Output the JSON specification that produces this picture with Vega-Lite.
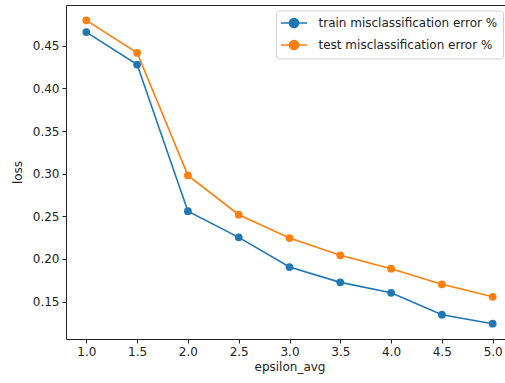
{
  "$schema": "https://vega.github.io/schema/vega-lite/v6.json",
  "autosize": {"type": "none"},
  "padding": {"left": 66, "top": 5, "right": 0, "bottom": 44},
  "width": 447,
  "height": 334,
  "background": "white",
  "config": {
    "font": "DejaVu Sans",
    "view": {"stroke": "#222", "strokeWidth": 1},
    "axis": {"grid": false, "domain": false, "tickColor": "#222", "tickSize": 4, "labelFontSize": 12, "labelColor": "#222", "titleFontSize": 12, "titleFontWeight": "normal", "titleColor": "#222", "labelPadding": 3}
  },
  "data": {
    "values": [
      {"epsilon_avg": 1.0, "loss": 0.466, "series": "train misclassification error %"},
      {"epsilon_avg": 1.5, "loss": 0.428, "series": "train misclassification error %"},
      {"epsilon_avg": 2.0, "loss": 0.256, "series": "train misclassification error %"},
      {"epsilon_avg": 2.5, "loss": 0.2254, "series": "train misclassification error %"},
      {"epsilon_avg": 3.0, "loss": 0.1906, "series": "train misclassification error %"},
      {"epsilon_avg": 3.5, "loss": 0.1726, "series": "train misclassification error %"},
      {"epsilon_avg": 4.0, "loss": 0.1604, "series": "train misclassification error %"},
      {"epsilon_avg": 4.5, "loss": 0.1347, "series": "train misclassification error %"},
      {"epsilon_avg": 5.0, "loss": 0.1241, "series": "train misclassification error %"},
      {"epsilon_avg": 1.0, "loss": 0.4798, "series": "test misclassification error %"},
      {"epsilon_avg": 1.5, "loss": 0.4418, "series": "test misclassification error %"},
      {"epsilon_avg": 2.0, "loss": 0.298, "series": "test misclassification error %"},
      {"epsilon_avg": 2.5, "loss": 0.2519, "series": "test misclassification error %"},
      {"epsilon_avg": 3.0, "loss": 0.2246, "series": "test misclassification error %"},
      {"epsilon_avg": 3.5, "loss": 0.2043, "series": "test misclassification error %"},
      {"epsilon_avg": 4.0, "loss": 0.1886, "series": "test misclassification error %"},
      {"epsilon_avg": 4.5, "loss": 0.1703, "series": "test misclassification error %"},
      {"epsilon_avg": 5.0, "loss": 0.1557, "series": "test misclassification error %"}
    ]
  },
  "mark": {"type": "line", "strokeWidth": 1.6, "point": {"filled": true, "size": 60, "opacity": 1}},
  "encoding": {
    "x": {
      "field": "epsilon_avg", "type": "quantitative", "title": "epsilon_avg",
      "scale": {"domain": [0.8, 5.2], "nice": false, "zero": false},
      "axis": {"values": [1.0, 1.5, 2.0, 2.5, 3.0, 3.5, 4.0, 4.5, 5.0], "format": ".1f", "titlePadding": 4}
    },
    "y": {
      "field": "loss", "type": "quantitative", "title": "loss",
      "scale": {"domain": [0.1062, 0.4978], "nice": false, "zero": false},
      "axis": {"values": [0.15, 0.2, 0.25, 0.3, 0.35, 0.4, 0.45], "format": ".2f", "titlePadding": 8}
    },
    "color": {
      "field": "series", "type": "nominal",
      "scale": {"domain": ["train misclassification error %", "test misclassification error %"], "range": ["#1f77b4", "#ff7f0e"]},
      "legend": {
        "title": null, "orient": "none", "legendX": 210, "legendY": 5.5,
        "labelFontSize": 12, "labelColor": "#222", "labelLimit": 400,
        "symbolType": "M-2,0H2M-0.7,0A0.7,0.7 0 1,0 0.7,0A0.7,0.7 0 1,0 -0.7,0Z",
        "symbolSize": 169, "symbolStrokeWidth": 1.6, "symbolOffset": 5.5,
        "fillColor": "white", "strokeColor": "#d0d0d0", "cornerRadius": 3, "padding": 5,
        "rowPadding": 5, "labelOffset": 17,
        "encode": {"symbols": {"update": {"fill": {"scale": "color", "field": "value"}, "stroke": {"scale": "color", "field": "value"}, "fillOpacity": {"value": 1}}}}
      }
    }
  }
}
